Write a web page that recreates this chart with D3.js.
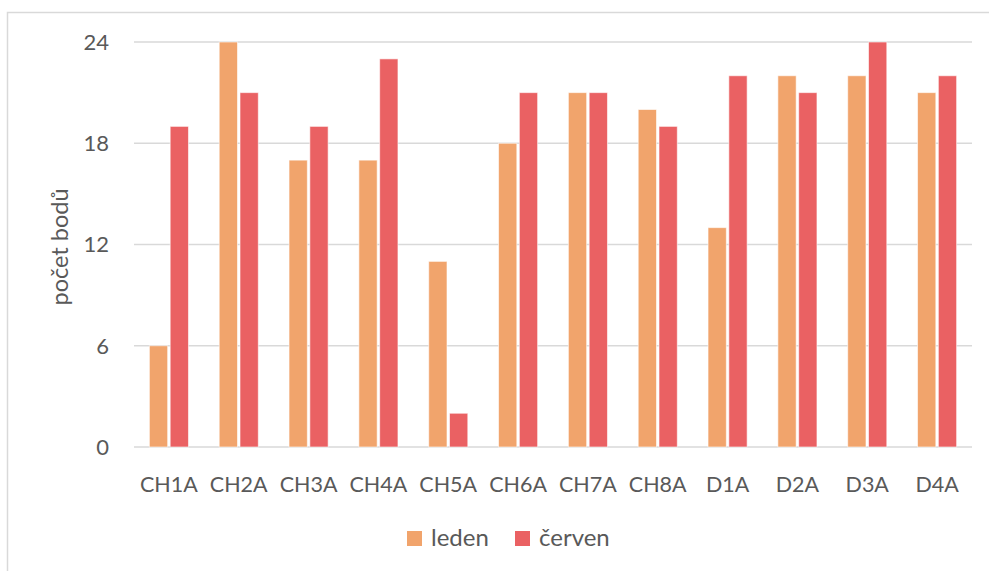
<!DOCTYPE html>
<html>
<head>
<meta charset="utf-8">
<script src="https://cdn.jsdelivr.net/npm/d3@7"></script>
<style>
  body { margin: 0; background: #fff; }
  text { font-family: Lato, "Open Sans", sans-serif; fill: #595959; }
</style>
</head>
<body>
<svg class="chart"></svg>
<script>
var categories = ['CH1A', 'CH2A', 'CH3A', 'CH4A', 'CH5A', 'CH6A', 'CH7A', 'CH8A', 'D1A', 'D2A', 'D3A', 'D4A']
var leden = [6, 24, 17, 17, 11, 18, 21, 20, 13, 22, 22, 21]
var cerven = [19, 21, 19, 23, 2, 21, 21, 19, 22, 21, 24, 22]
var seriesNames = ['leden', 'červen']
var yTicks = [0, 6, 12, 18, 24]

var colors = { 'leden': '#F1A46C', 'červen': '#EA6163' }
var width = 989, height = 571;
var margin = { top: 42, right: 17, bottom: 124, left: 134 }

var svg = d3.select('.chart')
    .attr('width', width)
    .attr('height', height)

// outer frame
svg.append('rect')
    .attr('x', 7.5).attr('y', 12.5)
    .attr('width', width).attr('height', height)
    .attr('fill', 'none')
    .attr('stroke', '#d9d9d9')
    .attr('stroke-width', 1.5)

var chart = svg.append('g')
    .attr('transform', `translate(${margin.left}, ${margin.top})`)

var w = width - margin.left - margin.right
var h = height - margin.top - margin.bottom

var x = d3.scaleBand()
    .domain(categories)
    .range([0, w])

var x1 = d3.scaleBand()
    .domain(seriesNames)
    .range([x.bandwidth() * 0.22, x.bandwidth() * 0.78])
    .paddingInner(0.12)

var y = d3.scaleLinear()
    .domain([0, 24])
    .range([h, 0])

// gridlines
chart.append('g')
  .selectAll('line')
    .data(yTicks)
  .enter().append('line')
    .attr('x1', 0).attr('x2', w)
    .attr('y1', function(d) { return y(d) }).attr('y2', function(d) { return y(d) })
    .attr('stroke', '#d9d9d9')
    .attr('stroke-width', 1.5)

// y tick labels
chart.append('g')
  .selectAll('text')
    .data(yTicks)
  .enter().append('text')
    .attr('x', -25)
    .attr('y', function(d) { return y(d) })
    .attr('dy', '0.36em')
    .attr('text-anchor', 'end')
    .attr('font-size', 22)
    .text(function(d) { return d })

// bars
var data = categories.map(function(c, i) {
  return { cat: c, values: [ { key: 'leden', v: leden[i] }, { key: 'červen', v: cerven[i] } ] }
})

var groups = chart.selectAll('.bar')
    .data(data)
  .enter().append('g')
    .attr('class', 'bar')
    .attr('transform', function(d) { return `translate(${x(d.cat)}, 0)` })

groups.selectAll('rect')
    .data(function(d) { return d.values })
  .enter().append('rect')
    .attr('x', function(d) { return x1(d.key) })
    .attr('y', function(d) { return y(d.v) })
    .attr('width', x1.bandwidth())
    .attr('height', function(d) { return h - y(d.v) })
    .attr('fill', function(d) { return colors[d.key] })
    .attr('stroke', '#fff')
    .attr('stroke-opacity', 0.6)
    .attr('stroke-width', 1)

// category labels
chart.append('g')
  .selectAll('text')
    .data(categories)
  .enter().append('text')
    .attr('x', function(d) { return x(d) + x.bandwidth() / 2 })
    .attr('y', h + 45)
    .attr('text-anchor', 'middle')
    .attr('font-size', 21.5)
    .text(function(d) { return d })

// y axis title
svg.append('text')
    .attr('transform', 'translate(68, 247) rotate(-90)')
    .attr('text-anchor', 'middle')
    .attr('font-size', 23.5)
    .text('počet bodů')

// legend
var legend = svg.append('g')
    .attr('transform', 'translate(407, 531)')

var items = legend.selectAll('g')
    .data(seriesNames)
  .enter().append('g')
    .attr('transform', function(d, i) { return `translate(${i * 108}, 0)` })

items.append('rect')
    .attr('width', 15).attr('height', 15)
    .attr('fill', function(d) { return colors[d] })

items.append('text')
    .attr('x', 24)
    .attr('y', 15)
    .attr('font-size', 24)
    .text(function(d) { return d })
</script>
</body>
</html>
